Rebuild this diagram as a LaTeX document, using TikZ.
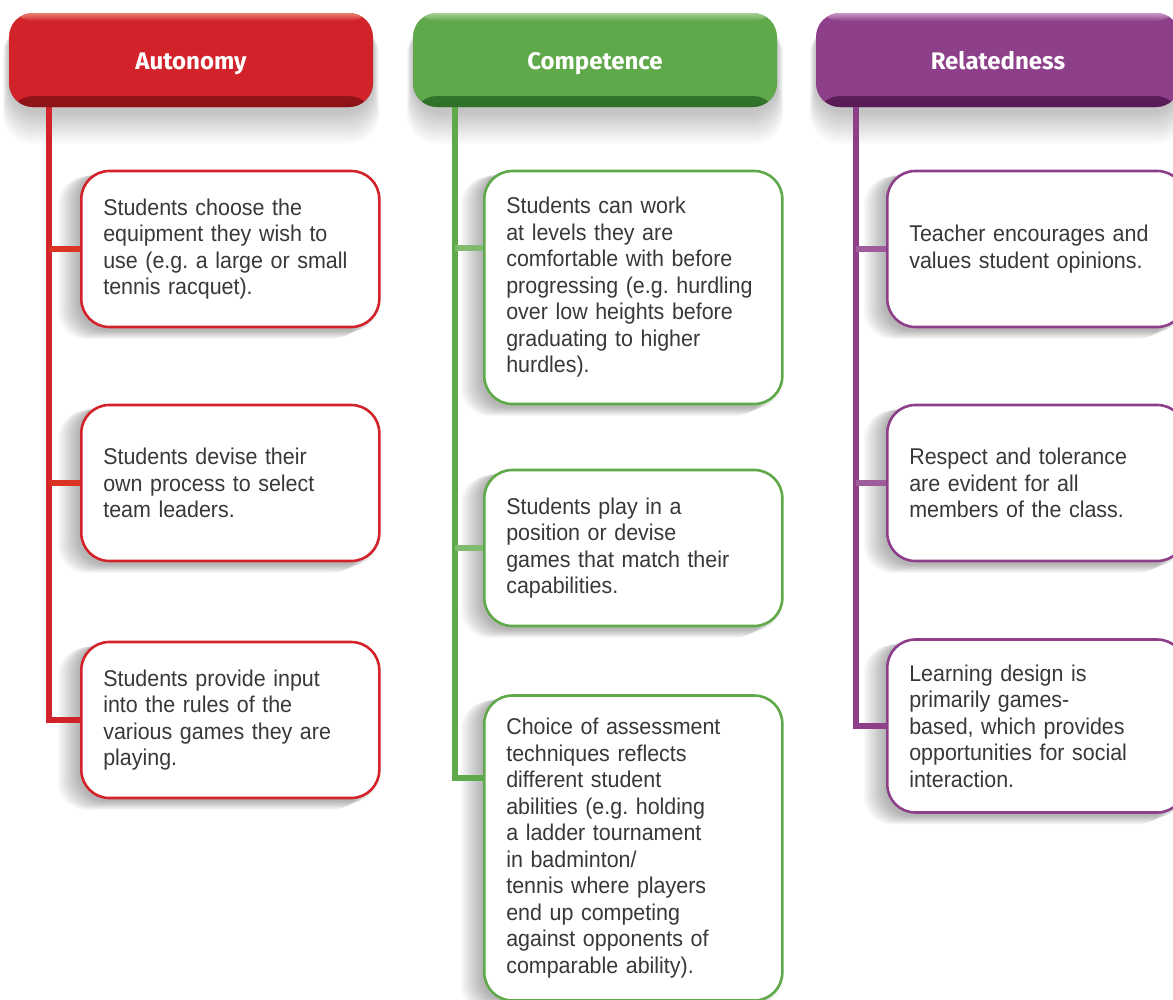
\documentclass[tikz,border=0pt]{standalone}
\usepackage{fontspec}
\setmainfont{Liberation Sans}[FakeStretch=0.94]
\newfontfamily\headfont{Fira Sans}
\usetikzlibrary{calc}
\frenchspacing
\definecolor{cred}{HTML}{D3232A}
\definecolor{credD}{HTML}{8A1216}
\definecolor{credL}{HTML}{E8836E}
\definecolor{cgrn}{HTML}{60A94A}
\definecolor{cgrnD}{HTML}{2E6E28}
\definecolor{cgrnL}{HTML}{A9D096}
\definecolor{cpur}{HTML}{8E3F8A}
\definecolor{cpurD}{HTML}{561A55}
\definecolor{cpurL}{HTML}{C79AC4}
\definecolor{txt}{HTML}{383838}
\pgfdeclarelayer{bg}
\pgfdeclarelayer{shad}
\pgfdeclarelayer{lines}
\pgfsetlayers{bg,shad,lines,main}
\tikzset{
  header/.style n args={3}{fill=#1, minimum width=364pt, minimum height=94pt,
    rounded corners=24pt, text=white, text height=18pt, text depth=0pt,
    font=\headfont\bfseries\fontsize{24}{28}\selectfont,
    path picture={
      \shade[top color=#1, bottom color=#2]
        ([yshift=11pt]path picture bounding box.south west) rectangle (path picture bounding box.south east);
      \shade[top color=#3, bottom color=#1]
        (path picture bounding box.north west) rectangle ([yshift=-8pt]path picture bounding box.north east);
    }},
  sbox/.style={draw=#1, line width=2.6pt, fill=white, rounded corners=28pt,
    text width=254pt, inner xsep=22pt, align=left, anchor=west, text=txt,
    font=\fontsize{22.8}{26.5}\selectfont},
  vline/.style={draw=#1, line width=6.5pt},
  stub/.style={draw=#1, line width=6pt},
}
\newcommand\mkshadow[1]{%
  \begin{pgfonlayer}{shad}
  \foreach \i in {1,...,10}{%
    \fill[black, opacity=0.03, rounded corners=28pt]
      ($(#1.north west)+(-2.2*\i,2+0.5*\i)$) rectangle ($(#1.south east)+(-2.2*\i+2,1.5+0.9*\i)$);}
  \end{pgfonlayer}}
\newcommand\mkhshadow[1]{%
  \begin{pgfonlayer}{shad}
  \foreach \i in {1,...,12}{%
    \fill[black, opacity=0.02, rounded corners=30pt]
      ($(#1.north west)+(-0.5*\i,6+0.5*\i)$) rectangle ($(#1.south east)+(0.5*\i,3+2.8*\i)$);}
  \end{pgfonlayer}}
\begin{document}
\begin{tikzpicture}[x=1pt,y=-1pt]
\clip (0,0) rectangle (1173,999);
\begin{pgfonlayer}{bg}
\fill[white] (0,0) rectangle (1173,999);
\end{pgfonlayer}

% headers
\node[header={cred}{credD}{credL}] (hA) at (191,60) {Autonomy};
\node[header={cgrn}{cgrnD}{cgrnL}] (hC) at (595,60) {Competence};
\node[header={cpur}{cpurD}{cpurL}] (hR) at (998,60) {Relatedness};
\mkhshadow{hA}\mkhshadow{hC}\mkhshadow{hR}

% Autonomy boxes
\node[sbox=cred, minimum height=156pt] (A1) at (80,249) {Students choose the\\equipment they wish to\\use (e.g. a large or small\\tennis racquet).};
\node[sbox=cred, minimum height=156pt] (A2) at (80,483) {Students devise their\\own process to select\\team leaders.};
\node[sbox=cred, minimum height=156pt] (A3) at (80,720) {Students provide input\\into the rules of the\\various games they are\\playing.};

% Competence boxes
\node[sbox=cgrn, minimum height=233pt] (C1) at (483,287.5) {Students can work\\at levels they are\\comfortable with before\\progressing (e.g. hurdling\\over low heights before\\graduating to higher\\hurdles).};
\node[sbox=cgrn, minimum height=156pt] (C2) at (483,548) {Students play in a\\position or devise\\games that match their\\capabilities.};
\node[sbox=cgrn, minimum height=305pt] (C3) at (483,848) {Choice of assessment\\techniques reflects\\different student\\abilities (e.g. holding\\a ladder tournament\\in badminton/\\tennis where players\\end up competing\\against opponents of\\comparable ability).};

% Relatedness boxes
\node[sbox=cpur, minimum height=156pt] (R1) at (886,249) {Teacher encourages and\\values student opinions.};
\node[sbox=cpur, minimum height=156pt] (R2) at (886,483) {Respect and tolerance\\are evident for all\\members of the class.};
\node[sbox=cpur, minimum height=173pt] (R3) at (886,726) {Learning design is\\primarily games-\\based, which provides\\opportunities for social\\interaction.};

\foreach \n in {A1,A2,A3,C1,C2,C3,R1,R2,R3}{\mkshadow{\n}}

% connector end points
\coordinate (Ab) at ($(hA.south west |- A3.west)+(40,0)$);
\coordinate (Cb) at ($(hC.south west |- C3.north west)+(42,84)$);
\coordinate (Rb) at ($(hR.south west |- R3.west)+(40,0)$);
\coordinate (C1in) at ($(C1.north west)+(0,78)$);

\begin{pgfonlayer}{lines}
\draw[vline=cred, line join=miter] (hA.south -| Ab) -- (Ab) -- (A3.west);
\draw[stub=cred!82!orange] (A1.west -| Ab) -- (A1.west);
\draw[stub=cred!82!orange] (A2.west -| Ab) -- (A2.west);

\draw[vline=cgrn, line join=miter] (hC.south -| Cb) -- (Cb) -- (Cb -| C3.west);
\draw[stub=cgrn!80!white] (C1in -| Cb) -- (C1in);
\draw[stub=cgrn!80!white] (C2.west -| Cb) -- (C2.west);

\draw[vline=cpur, line join=miter] (hR.south -| Rb) -- (Rb) -- (R3.west);
\draw[stub=cpur!85!white] (R1.west -| Rb) -- (R1.west);
\draw[stub=cpur!85!white] (R2.west -| Rb) -- (R2.west);
\end{pgfonlayer}
\end{tikzpicture}
\end{document}
